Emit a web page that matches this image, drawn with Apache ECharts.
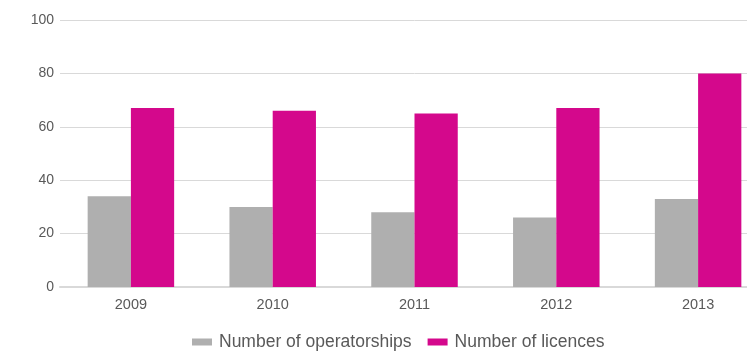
<!DOCTYPE html>
<html><head><meta charset="utf-8">
<script src="https://cdn.jsdelivr.net/npm/echarts@6/dist/echarts.min.js"></script>
<style>html,body{margin:0;padding:0;background:#fff;overflow:hidden;width:747px;height:353px}#c{width:769px;height:353px}</style>
</head><body><div id="c"></div>
<script>
const categories = ['2009','2010','2011','2012','2013'];
const operatorships = [34,30,28,26,33];
const licences = [67,66,65,67,80];
const yTicks = [0,20,40,60,80,100];

const chart = echarts.init(document.getElementById('c'), null, {renderer:'canvas'});
chart.setOption({
  animation:false,
  grid:{left:60, top:20, right:0, bottom:66, containLabel:false},
  legend:{
    bottom:-3, left:187, itemWidth:20, itemHeight:7, itemGap:16,
    icon:'rect',
    textStyle:{fontFamily:'Liberation Sans, Arial', fontSize:17.5, color:'#595959', padding:[0,0,0,2]},
    data:['Number of operatorships','Number of licences']
  },
  xAxis:{
    type:'category', data:categories,
    axisLine:{lineStyle:{color:'#d9d9d9', width:2}},
    axisTick:{show:false},
    axisLabel:{color:'#595959', fontFamily:'Liberation Sans, Arial', fontSize:14.5, margin:10}
  },
  yAxis:{
    type:'value', min:yTicks[0], max:yTicks[yTicks.length-1], interval:20,
    axisLine:{show:false}, axisTick:{show:false},
    splitLine:{lineStyle:{color:'#d9d9d9', width:1}},
    axisLabel:{color:'#595959', fontFamily:'Liberation Sans, Arial', fontSize:14, margin:6}
  },
  series:[
    {name:'Number of operatorships', type:'bar', data:operatorships, itemStyle:{color:'#afafaf'}, barGap:'0%', barCategoryGap:'39%'},
    {name:'Number of licences', type:'bar', data:licences, itemStyle:{color:'#d4088c'}, barGap:'0%', barCategoryGap:'39%'}
  ]
});
</script></body></html>
